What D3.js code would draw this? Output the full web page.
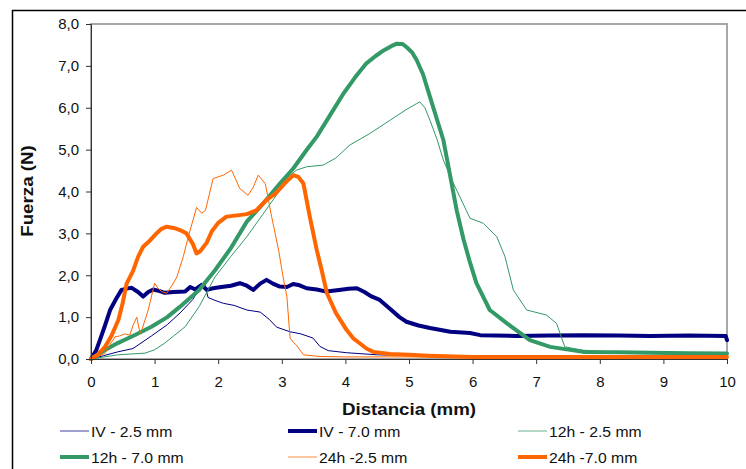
<!DOCTYPE html>
<html>
<head>
<meta charset="utf-8">
<script src="https://cdn.jsdelivr.net/npm/d3@7"></script>
<style>
  body { margin: 0; background: #fff; }
  svg { display: block; font-family: "Liberation Sans", Arial, sans-serif; }
</style>
</head>
<body>
<div id="chart"></div>
<script>
// Force (N) vs. distance (mm) curves
const xTicks = [0, 1, 2, 3, 4, 5, 6, 7, 8, 9, 10];
const yTicks = [0, 1, 2, 3, 4, 5, 6, 7, 8];

const iv25X = [0, 0.2, 0.42, 0.66, 0.95, 1.2, 1.4, 1.6, 1.72, 1.78, 1.84, 1.95, 2.08, 2.25, 2.45, 2.66, 2.8, 2.92, 3.13, 3.3, 3.49, 3.6, 3.73, 4.02, 4.5, 5, 6, 7, 8, 9, 10];
const iv25Y = [0, 0.08, 0.17, 0.25, 0.55, 0.82, 1.1, 1.42, 1.72, 1.84, 1.47, 1.4, 1.33, 1.28, 1.17, 1.12, 0.95, 0.76, 0.65, 0.6, 0.5, 0.3, 0.2, 0.15, 0.1, 0.08, 0.07, 0.07, 0.06, 0.06, 0.06];

const iv70X = [0, 0.08, 0.14, 0.22, 0.3, 0.4, 0.48, 0.56, 0.64, 0.74, 0.82, 0.9, 0.98, 1.08, 1.16, 1.3, 1.48, 1.56, 1.64, 1.74, 1.82, 1.92, 2.05, 2.2, 2.34, 2.45, 2.55, 2.66, 2.76, 2.86, 2.97, 3.08, 3.18, 3.28, 3.39, 3.55, 3.7, 3.9, 4.05, 4.18, 4.3, 4.4, 4.54, 4.7, 4.85, 4.96, 5.15, 5.33, 5.65, 5.96, 6.12, 6.69, 7.2, 7.74, 8.3, 8.79, 9.4, 9.98, 10];
const iv70Y = [0, 0.2, 0.45, 0.8, 1.17, 1.45, 1.65, 1.68, 1.7, 1.6, 1.49, 1.6, 1.66, 1.62, 1.58, 1.6, 1.61, 1.72, 1.66, 1.77, 1.65, 1.69, 1.72, 1.75, 1.81, 1.75, 1.65, 1.8, 1.89, 1.8, 1.73, 1.72, 1.79, 1.76, 1.69, 1.66, 1.61, 1.65, 1.68, 1.69, 1.6, 1.5, 1.41, 1.2, 1.0, 0.89, 0.8, 0.74, 0.65, 0.62, 0.57, 0.55, 0.56, 0.57, 0.56, 0.55, 0.56, 0.55, 0.45];

const h12_25X = [0, 0.42, 0.85, 1.0, 1.16, 1.3, 1.48, 1.7, 1.95, 2.2, 2.45, 2.7, 2.97, 3.1, 3.23, 3.39, 3.65, 3.85, 4.07, 4.39, 4.7, 4.95, 5.12, 5.17, 5.25, 5.33, 5.44, 5.54, 5.7, 5.96, 6.17, 6.38, 6.51, 6.64, 6.85, 7.16, 7.32, 7.4, 7.45, 7.74, 8.5, 9.3, 10];
const h12_25Y = [0, 0.1, 0.14, 0.22, 0.38, 0.55, 0.77, 1.25, 1.96, 2.45, 2.92, 3.45, 4.03, 4.35, 4.51, 4.59, 4.63, 4.8, 5.11, 5.39, 5.7, 5.95, 6.1, 6.14, 6.0, 5.7, 5.25, 4.75, 4.19, 3.36, 3.24, 2.92, 2.44, 1.65, 1.17, 1.05, 0.85, 0.5, 0.29, 0.21, 0.15, 0.13, 0.12];

const h12_70X = [0, 0.2, 0.42, 0.7, 0.95, 1.2, 1.4, 1.7, 1.95, 2.2, 2.45, 2.7, 2.97, 3.18, 3.39, 3.55, 3.75, 3.97, 4.15, 4.33, 4.47, 4.6, 4.72, 4.81, 4.9, 4.96, 5.05, 5.12, 5.22, 5.33, 5.54, 5.64, 5.75, 5.86, 5.96, 6.06, 6.27, 6.54, 6.9, 7.22, 7.74, 8.3, 8.79, 9.4, 10];
const h12_70Y = [0, 0.2, 0.38, 0.58, 0.77, 1.0, 1.25, 1.65, 2.12, 2.65, 3.28, 3.7, 4.19, 4.55, 4.99, 5.31, 5.8, 6.34, 6.72, 7.06, 7.23, 7.37, 7.47, 7.53, 7.52, 7.45, 7.32, 7.14, 6.8, 6.26, 5.23, 4.43, 3.55, 2.84, 2.3, 1.81, 1.17, 0.85, 0.45, 0.29, 0.17, 0.16, 0.15, 0.14, 0.13];

const h24_25X = [0, 0.1, 0.22, 0.3, 0.38, 0.45, 0.53, 0.61, 0.66, 0.72, 0.77, 0.8, 0.9, 1.0, 1.05, 1.11, 1.19, 1.27, 1.35, 1.45, 1.53, 1.66, 1.74, 1.8, 1.92, 2.0, 2.08, 2.21, 2.34, 2.47, 2.55, 2.63, 2.74, 2.84, 2.95, 3.02, 3.08, 3.13, 3.18, 3.23, 3.34, 3.6, 4, 5, 6, 7, 8, 9, 10];
const h24_25Y = [0, 0.05, 0.14, 0.35, 0.53, 0.55, 0.6, 0.57, 0.8, 1.0, 0.62, 0.7, 1.17, 1.81, 1.7, 1.61, 1.57, 1.75, 1.96, 2.44, 2.92, 3.62, 3.48, 3.55, 4.31, 4.35, 4.39, 4.51, 4.07, 3.91, 4.1, 4.39, 4.19, 3.4, 2.6, 1.96, 1.49, 0.5, 0.4, 0.33, 0.1, 0.06, 0.05, 0.05, 0.04, 0.04, 0.04, 0.04, 0.04];

const h24_70X = [0, 0.1, 0.22, 0.32, 0.43, 0.5, 0.56, 0.66, 0.74, 0.82, 0.92, 1.03, 1.1, 1.19, 1.3, 1.4, 1.5, 1.6, 1.66, 1.72, 1.82, 1.9, 2.0, 2.13, 2.3, 2.45, 2.6, 2.76, 2.9, 3.05, 3.18, 3.26, 3.34, 3.44, 3.55, 3.63, 3.71, 3.85, 4.02, 4.12, 4.23, 4.33, 4.44, 4.7, 5.0, 5.3, 6, 7, 8, 9, 10];
const h24_70Y = [0, 0.1, 0.29, 0.55, 0.93, 1.35, 1.8, 2.1, 2.44, 2.68, 2.82, 3.0, 3.1, 3.16, 3.13, 3.08, 3.0, 2.75, 2.52, 2.58, 2.78, 3.05, 3.25, 3.4, 3.43, 3.46, 3.55, 3.8, 3.95, 4.2, 4.39, 4.35, 4.19, 3.4, 2.6, 2.1, 1.57, 1.1, 0.69, 0.5, 0.37, 0.25, 0.17, 0.12, 0.1, 0.08, 0.05, 0.05, 0.05, 0.05, 0.05];

const navy = "#000080", green = "#339966", orange = "#ff6600";

const series = [
  { name: "IV - 2.5 mm", xs: iv25X, ys: iv25Y, color: navy, w: 1 },
  { name: "IV - 7.0 mm", xs: iv70X, ys: iv70Y, color: navy, w: 4 },
  { name: "12h - 2.5 mm", xs: h12_25X, ys: h12_25Y, color: green, w: 1 },
  { name: "12h - 7.0 mm", xs: h12_70X, ys: h12_70Y, color: green, w: 4 },
  { name: "24h -2.5 mm", xs: h24_25X, ys: h24_25Y, color: orange, w: 1 },
  { name: "24h -7.0 mm", xs: h24_70X, ys: h24_70Y, color: orange, w: 4 }
];

const width = 746, height = 469;
const plot = { left: 91, right: 727, top: 24, bottom: 359 };

const svg = d3.select("#chart").append("svg")
  .attr("width", width).attr("height", height);

// outer chart frame (runs off the right / bottom of the picture)
svg.append("rect")
  .attr("x", 12.5).attr("y", 10.5)
  .attr("width", 800).attr("height", 500)
  .attr("fill", "none").attr("stroke", "#000").attr("stroke-width", 1.5);

const x = d3.scaleLinear().domain([0, 10]).range([plot.left, plot.right]);
const y = d3.scaleLinear().domain([0, 8]).range([plot.bottom, plot.top]);

const es = d3.formatLocale({ decimal: ",", thousands: ".", grouping: [3], currency: ["", ""] });
const fmtY = es.format(".1f");

// plot area border (grey, Excel style)
svg.append("rect")
  .attr("x", plot.left).attr("y", plot.top)
  .attr("width", plot.right - plot.left).attr("height", plot.bottom - plot.top)
  .attr("fill", "none").attr("stroke", "#a8a8a8").attr("stroke-width", 2);

// lines
const line = d3.line()
  .x(d => x(d[0])).y(d => y(d[1]));

svg.append("g").selectAll("path")
  .data(series)
  .enter().append("path")
  .attr("d", s => line(s.xs.map((v, i) => [v, s.ys[i]])))
  .attr("fill", "none")
  .attr("stroke", s => s.color)
  .attr("stroke-width", s => s.w)
  .attr("stroke-linejoin", "round")
  .attr("stroke-linecap", "round");

// Y axis
svg.append("g")
  .attr("transform", `translate(${plot.left},0)`)
  .call(d3.axisLeft(y).tickValues(yTicks).tickSize(5).tickPadding(7).tickFormat(fmtY))
  .call(g => g.select(".domain").attr("stroke", "#333"))
  .call(g => g.selectAll(".tick line").attr("stroke", "#333"))
  .call(g => g.selectAll("text").attr("font-size", 15).attr("fill", "#111")
    .attr("font-family", "'Liberation Sans', Arial, sans-serif"));

// X axis
svg.append("g")
  .attr("transform", `translate(0,${plot.bottom})`)
  .call(d3.axisBottom(x).tickValues(xTicks).tickSize(5).tickPadding(12).tickFormat(d3.format("d")))
  .call(g => g.select(".domain").attr("stroke", "#333"))
  .call(g => g.selectAll(".tick line").attr("stroke", "#333"))
  .call(g => g.selectAll("text").attr("font-size", 15).attr("fill", "#111")
    .attr("font-family", "'Liberation Sans', Arial, sans-serif"));

// axis titles (the original text is a bit wider than the font, so stretch it)
svg.append("text")
  .attr("transform", `translate(${(plot.left + plot.right) / 2},415) scale(1.17,1)`)
  .attr("text-anchor", "middle")
  .attr("font-size", 16).attr("font-weight", "bold").attr("fill", "#111")
  .text("Distancia (mm)");

svg.append("text")
  .attr("transform", "translate(33,191) rotate(-90) scale(1.17,1)")
  .attr("text-anchor", "middle")
  .attr("font-size", 16).attr("font-weight", "bold").attr("fill", "#111")
  .text("Fuerza (N)");

// legend, 3 columns x 2 rows
const legCols = [60, 288, 518];
const legRows = [431, 457];
const leg = svg.append("g").selectAll("g")
  .data(series)
  .enter().append("g")
  .attr("transform", (s, i) => `translate(${legCols[i % 3]},${legRows[Math.floor(i / 3)]})`);

leg.append("line")
  .attr("x1", 0).attr("x2", 29).attr("y1", 0).attr("y2", 0)
  .attr("stroke", s => s.color)
  .attr("stroke-width", s => s.w)
  .attr("stroke-opacity", s => s.w === 1 ? 0.75 : 1);

leg.append("text")
  .attr("transform", "translate(31,5.5) scale(1.05,1)")
  .attr("font-size", 15).attr("fill", "#111")
  .text(s => s.name);
</script>
</body>
</html>
